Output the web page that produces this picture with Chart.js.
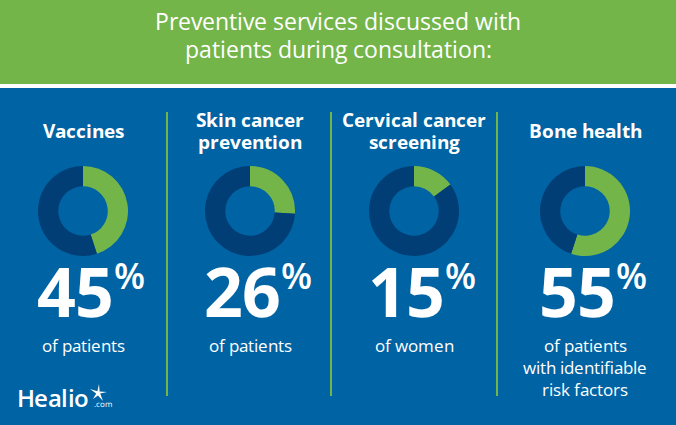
<!DOCTYPE html>
<html>
<head>
<meta charset="utf-8">
<script src="https://cdn.jsdelivr.net/npm/chart.js@4.4.1/dist/chart.umd.min.js"></script>
<style>
  @font-face { font-family: 'OSX'; font-weight: 400; src: local('Open Sans Regular'), local('OpenSans-Regular'), local('Open Sans');
    ascent-override: 88.8%; descent-override: 11.2%; line-gap-override: 0%; }
  @font-face { font-family: 'OSX'; font-weight: 600; src: local('Open Sans SemiBold'), local('OpenSans-SemiBold'), local('Open Sans Semibold');
    ascent-override: 88.8%; descent-override: 11.2%; line-gap-override: 0%; }
  @font-face { font-family: 'OSX'; font-weight: 700; src: local('Open Sans Bold'), local('OpenSans-Bold');
    ascent-override: 88.8%; descent-override: 11.2%; line-gap-override: 0%; }
  html, body { margin: 0; padding: 0; }
  body {
    width: 676px; height: 425px; overflow: hidden; position: relative;
    background: #0063a3; font-family: "OSX", "Open Sans", sans-serif; color: #fff;
  }
  #header {
    position: absolute; left: 0; top: 0; width: 676px; height: 84px;
    background: #74b54a; text-align: center;
    font-size: 23px; font-weight: 400; line-height: 28px; padding-top: 8px; box-sizing: border-box;
  }
  #stripe { position: absolute; left: 0; top: 84px; width: 676px; height: 4px; background: #fff; }
  .divider { position: absolute; top: 112px; width: 2px; height: 284px; background: #74b54a; }
  .col { position: absolute; top: 0; width: 170px; margin-left: -85px; text-align: center; }
  .col h2 {
    position: absolute; left: 0; width: 170px; margin: 0;
    font-size: 19px; font-weight: 700; line-height: 22px;
  }
  .col canvas { position: absolute; left: 39px; top: 165px; }
  .big {
    position: absolute; left: 0; width: 156px; padding-left: 14px; top: 263px;
    font-size: 68px; font-weight: 700; line-height: 56px; letter-spacing: -1px;
  }
  .big sup { font-size: 36px; font-weight: 600; vertical-align: top; position: relative; top: -6px; margin-left: 1px; line-height: 36px; }
  .sub { position: absolute; left: 0; width: 170px; top: 335px; font-size: 17px; line-height: 22px; }
  #logo { position: absolute; left: 17px; top: 383px; font-size: 24px; font-weight: 600; letter-spacing: -0.6px; line-height: 30px; }
  #logo small { position: absolute; left: 77px; top: 17px; font-size: 8px; line-height: 8px; font-weight: 400; letter-spacing: 0; }
</style>
</head>
<body>
<div id="header">Preventive services discussed with<br>patients during consultation:</div>
<div id="stripe"></div>
<div class="divider" style="left:166px"></div>
<div class="divider" style="left:330px"></div>
<div class="divider" style="left:496px"></div>
<div id="cols"></div>
<div id="logo">Healio<small>.com</small>
  <svg width="20" height="20" viewBox="0 0 20 20" style="position:absolute;left:70px;top:1px">
    <path d="M12 0 L12.6 7.4 L20 8 L13.2 9.6 L16 17 L11 11.5 L6 15 L9.2 9.4 L3 5 L10.4 7.2 Z" fill="#fff"/>
  </svg>
</div>
<script>
// data
const categories = [['Vaccines'], ['Skin cancer', 'prevention'], ['Cervical cancer', 'screening'], ['Bone health']];
const percents = [45, 26, 15, 55];
const subtitles = [['of patients'], ['of patients'], ['of women'], ['of patients', 'with identifiable', 'risk factors']];
const colCenters = [83, 250, 414, 585];

const green = '#74b54a';
const navy = '#003e75';

const cols = document.getElementById('cols');

categories.forEach(function(cat, i) {
    const col = document.createElement('div');
    col.className = 'col';
    col.style.left = colCenters[i] + 'px';

    const h = document.createElement('h2');
    h.innerHTML = cat.join('<br>');
    h.style.top = (cat.length === 1 ? 120 : 109) + 'px';
    col.appendChild(h);

    const canvas = document.createElement('canvas');
    canvas.width = 92;
    canvas.height = 92;
    canvas.style.width = '92px';
    canvas.style.height = '92px';
    col.appendChild(canvas);

    const big = document.createElement('div');
    big.className = 'big';
    big.innerHTML = percents[i] + '<sup>%</sup>';
    col.appendChild(big);

    const sub = document.createElement('div');
    sub.className = 'sub';
    sub.innerHTML = subtitles[i].join('<br>');
    col.appendChild(sub);

    cols.appendChild(col);

    new Chart(canvas.getContext('2d'), {
        type: 'doughnut',
        data: {
            labels: ['Yes', 'No'],
            datasets: [{
                data: [percents[i], 100 - percents[i]],
                backgroundColor: [green, navy],
                borderWidth: 0
            }]
        },
        options: {
            responsive: false,
            animation: false,
            cutout: '55%',
            layout: { padding: 1 },
            plugins: {
                legend: { display: false },
                tooltip: { enabled: false }
            }
        }
    });
});
</script>
</body>
</html>
